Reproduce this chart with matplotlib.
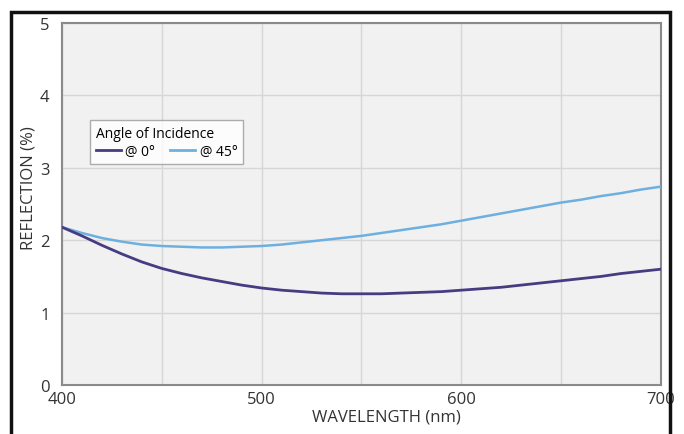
import matplotlib.pyplot as plt
from matplotlib.patches import Rectangle
from matplotlib.lines import Line2D

plt.rcParams['font.family'] = ['Open Sans', 'DejaVu Sans']

# values (every 10 nm)
wavelength = list(range(400, 701, 10))
refl_0 = [2.18, 2.06, 1.93, 1.81, 1.70, 1.61, 1.54, 1.48, 1.43, 1.38,
          1.34, 1.31, 1.29, 1.27, 1.26, 1.26, 1.26, 1.27, 1.28, 1.29,
          1.31, 1.33, 1.35, 1.38, 1.41, 1.44, 1.47, 1.50, 1.54, 1.57, 1.60]
refl_45 = [2.18, 2.10, 2.03, 1.98, 1.94, 1.92, 1.91, 1.90, 1.90, 1.91,
           1.92, 1.94, 1.97, 2.00, 2.03, 2.06, 2.10, 2.14, 2.18, 2.22,
           2.27, 2.32, 2.37, 2.42, 2.47, 2.52, 2.56, 2.61, 2.65, 2.70, 2.74]

x_ticks = [400, 500, 600, 700]
y_ticks = [0, 1, 2, 3, 4, 5]

dark = '#463c82'
light = '#6db0e0'

fig = plt.figure(figsize=(6.84, 4.35), dpi=100)
ax = fig.add_axes([0.0906, 0.1126, 0.8758, 0.8322])
ax.set_facecolor('#f1f1f1')

ax.plot(wavelength, refl_45, color=light, lw=1.8, zorder=3)
ax.plot(wavelength, refl_0, color=dark, lw=2.0, zorder=4)

ax.set_xlim(400, 700)
ax.set_ylim(0, 5)
ax.set_xticks(x_ticks)
ax.set_xticks(range(450, 700, 50), minor=True)
ax.set_yticks(y_ticks)
ax.grid(True, which='both', color='#d6d6d6', lw=1.0, zorder=0)
ax.tick_params(which='both', length=0, labelsize=12, colors='#333333', pad=4)
ax.tick_params(axis='y', pad=9)
for s in ax.spines.values():
    s.set_color('#8a8a8a')
    s.set_linewidth(1.5)

ax.set_xlabel('WAVELENGTH (nm)', fontsize=12, color='#333333')
ax.set_ylabel('REFLECTION (%)', fontsize=12, color='#333333')
ax.xaxis.set_label_coords(0.541, -0.066)
ax.yaxis.set_label_coords(-0.043, 0.547)

handles = [Line2D([], [], color=dark, lw=2), Line2D([], [], color=light, lw=2)]
leg = ax.legend(handles, ['@ 0°', '@ 45°'], title='Angle of Incidence',
                loc='upper left', bbox_to_anchor=(0.036, 0.75), ncol=2,
                fontsize=10, title_fontsize=10, frameon=True, fancybox=False,
                handlelength=1.8, handletextpad=0.3, columnspacing=1.1,
                borderpad=0.4, labelspacing=0.2)
leg._legend_box.align = 'left'
leg.get_frame().set_edgecolor('#9a9a9a')
leg.get_frame().set_facecolor('white')
leg.get_frame().set_linewidth(1.0)

# outer frame, open at the bottom
fig.patches.append(Rectangle((0.016, -0.05), 0.98 - 0.016, 0.97 + 0.05,
                             transform=fig.transFigure, fill=False,
                             edgecolor='#111111', lw=2.5))

fig.savefig('out.png', dpi=100)
